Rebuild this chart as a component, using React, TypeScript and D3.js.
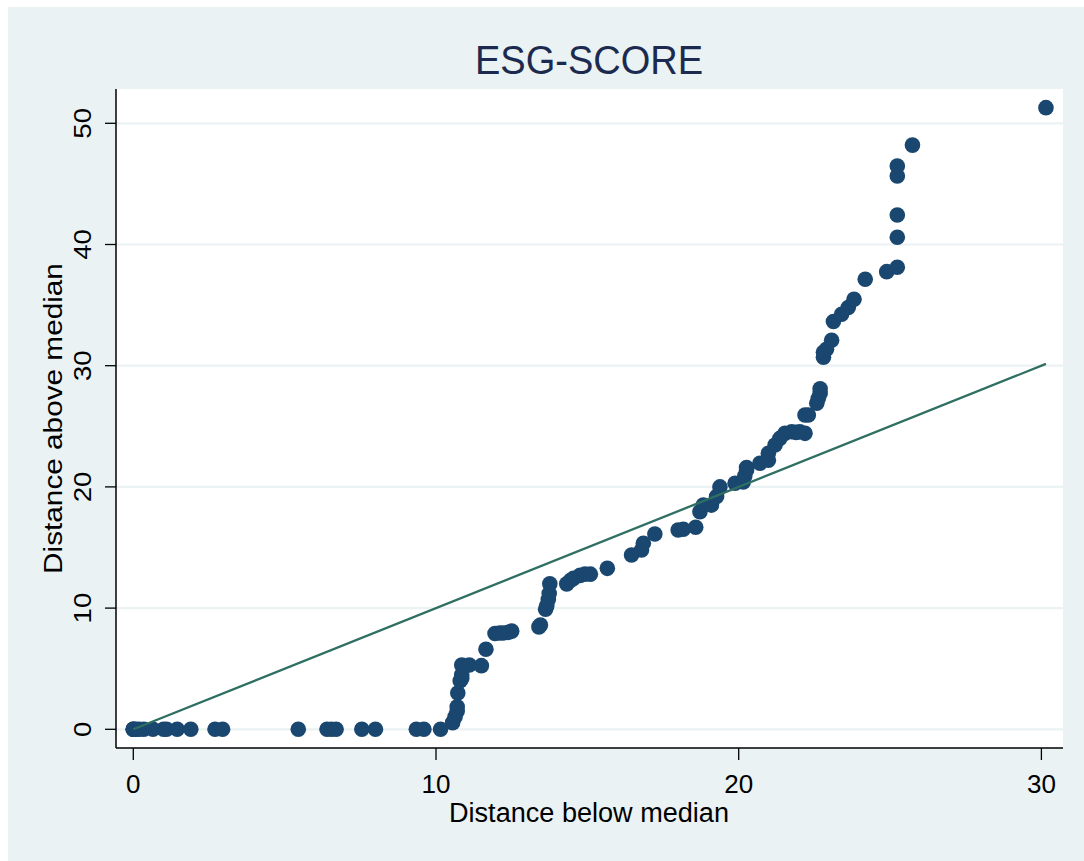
import React from "react";
import * as d3 from "d3";

// Distance below median (x) and distance above median (y) for each symmetry pair
const belowMedian: number[] = [
  0, 0, 0, 0.1, 0.2, 0.35, 0.65, 1.0, 1.1, 1.45, 1.9, 2.7, 2.95, 5.45, 6.4, 6.55, 6.7, 7.55, 8.0, 9.35, 9.6, 10.15,
  10.55, 10.63, 10.7, 10.7, 10.72, 10.8, 10.85, 10.85, 10.85, 11.1, 11.5, 11.65, 11.95, 12.1, 12.22, 12.39, 12.5,
  13.4, 13.45, 13.62, 13.66, 13.71, 13.74, 13.76, 14.32, 14.45, 14.54, 14.76, 14.92, 15.1, 15.66,
  16.46, 16.79, 16.85, 17.23, 18.0, 18.17, 18.58, 18.72, 18.83, 19.1, 19.27, 19.38, 19.88, 20.15, 20.2, 20.26, 20.26,
  20.7, 20.98, 20.98, 21.2, 21.36, 21.53, 21.75, 21.9, 22.02, 22.19, 22.19, 22.3, 22.58, 22.63, 22.69, 22.69,
  22.8, 22.8, 22.9, 23.07, 23.13, 23.4, 23.62, 23.81, 24.18, 24.89, 25.24, 25.24, 25.24, 25.24, 25.24, 25.74, 30.15,
];
const aboveMedian: number[] = [
  0, 0, 0, 0, 0, 0, 0, 0, 0, 0, 0, 0, 0, 0, 0, 0, 0, 0, 0, 0, 0, 0,
  0.55, 1.04, 1.5, 1.86, 3.0, 4.0, 4.2, 4.5, 5.3, 5.3, 5.25, 6.6, 7.9, 7.95, 7.95, 8.0, 8.1,
  8.45, 8.6, 9.9, 10.2, 10.7, 11.2, 12.0, 12.0, 12.3, 12.45, 12.7, 12.8, 12.8, 13.28,
  14.38, 14.79, 15.35, 16.11, 16.44, 16.5, 16.67, 17.95, 18.5, 18.5, 19.2, 20.0, 20.3, 20.4, 20.9, 21.4, 21.6,
  21.95, 22.2, 22.77, 23.46, 24.0, 24.42, 24.55, 24.5, 24.55, 24.42, 25.93, 25.93, 26.9, 27.3, 27.7, 28.1,
  30.7, 31.1, 31.35, 32.1, 33.65, 34.25, 34.8, 35.48, 37.13, 37.76, 38.12, 40.6, 42.43, 45.65, 46.48, 48.2, 51.29,
];

const xTicks: number[] = [0, 10, 20, 30];
const yTicks: number[] = [0, 10, 20, 30, 40, 50];
const titleText = "ESG-SCORE";
const xTitle = "Distance below median";
const yTitle = "Distance above median";

export default function App() {
  const W = 1084;
  const H = 861;
  const plotL = 116, plotR = 1063, plotT = 89, plotB = 748;
  const x = d3.scaleLinear().domain([0, 30]).range([133.3, 1041.4]);
  const y = d3.scaleLinear().domain([0, 50]).range([729.3, 123.3]);
  const maxX = d3.max(belowMedian) as number;
  const pts = belowMedian.map((b, i) => ({ b, a: aboveMedian[i] }));
  const font = "'Liberation Sans', Arial, Helvetica, sans-serif";
  const refLine = d3.line<number>().x((d) => x(d)).y((d) => y(d))([0, maxX]) as string;

  return (
    <svg
      width={W}
      height={H}
      style={{ position: "fixed", left: 0, top: 0, display: "block" }}
      fontFamily={font}
    >
      <rect x={0} y={0} width={W} height={H} fill="#ffffff" />
      <rect x={8} y={7} width={W - 8} height={H - 7} fill="#eaf2f3" />
      <rect x={plotL} y={plotT} width={plotR - plotL} height={plotB - plotT} fill="#ffffff" />
      {yTicks.map((t) => (
        <line key={"g" + t} x1={plotL} x2={plotR} y1={y(t)} y2={y(t)} stroke="#eaf2f3" strokeWidth={2.2} />
      ))}
      {pts.map((p, i) => (
        <circle key={i} cx={x(p.b)} cy={y(p.a)} r={7.8} fill="#1a476f" />
      ))}
      <path d={refLine} stroke="#2e6f62" strokeWidth={2.3} fill="none" />
      {/* axes */}
      <line x1={plotL} x2={plotL} y1={plotT} y2={plotB} stroke="#000" strokeWidth={1.5} />
      <line x1={plotL} x2={plotR} y1={plotB} y2={plotB} stroke="#000" strokeWidth={1.5} />
      {xTicks.map((t) => (
        <g key={"x" + t}>
          <line x1={x(t)} x2={x(t)} y1={plotB} y2={plotB + 12} stroke="#000" strokeWidth={1.3} />
          <text x={x(t)} y={793} fontSize={26} textAnchor="middle" fill="#000">
            {t}
          </text>
        </g>
      ))}
      {yTicks.map((t) => (
        <g key={"y" + t}>
          <line x1={plotL - 11} x2={plotL} y1={y(t)} y2={y(t)} stroke="#000" strokeWidth={1.3} />
          <text
            transform={`translate(91,${y(t)}) rotate(-90) scale(1.15,1)`}
            fontSize={24}
            textAnchor="middle"
            fill="#000"
          >
            {t}
          </text>
        </g>
      ))}
      <text
        x={589}
        y={822}
        fontSize={27}
        textAnchor="middle"
        fill="#000"
        textLength={280}
        lengthAdjust="spacingAndGlyphs"
      >
        {xTitle}
      </text>
      <text
        transform={`translate(62,${(plotT + plotB) / 2}) rotate(-90) scale(1.19,1)`}
        fontSize={25}
        textAnchor="middle"
        fill="#000"
      >
        {yTitle}
      </text>
      <text
        x={589}
        y={74}
        fontSize={40}
        textAnchor="middle"
        fill="#1c2a4f"
        textLength={228}
        lengthAdjust="spacingAndGlyphs"
      >
        {titleText}
      </text>
    </svg>
  );
}
